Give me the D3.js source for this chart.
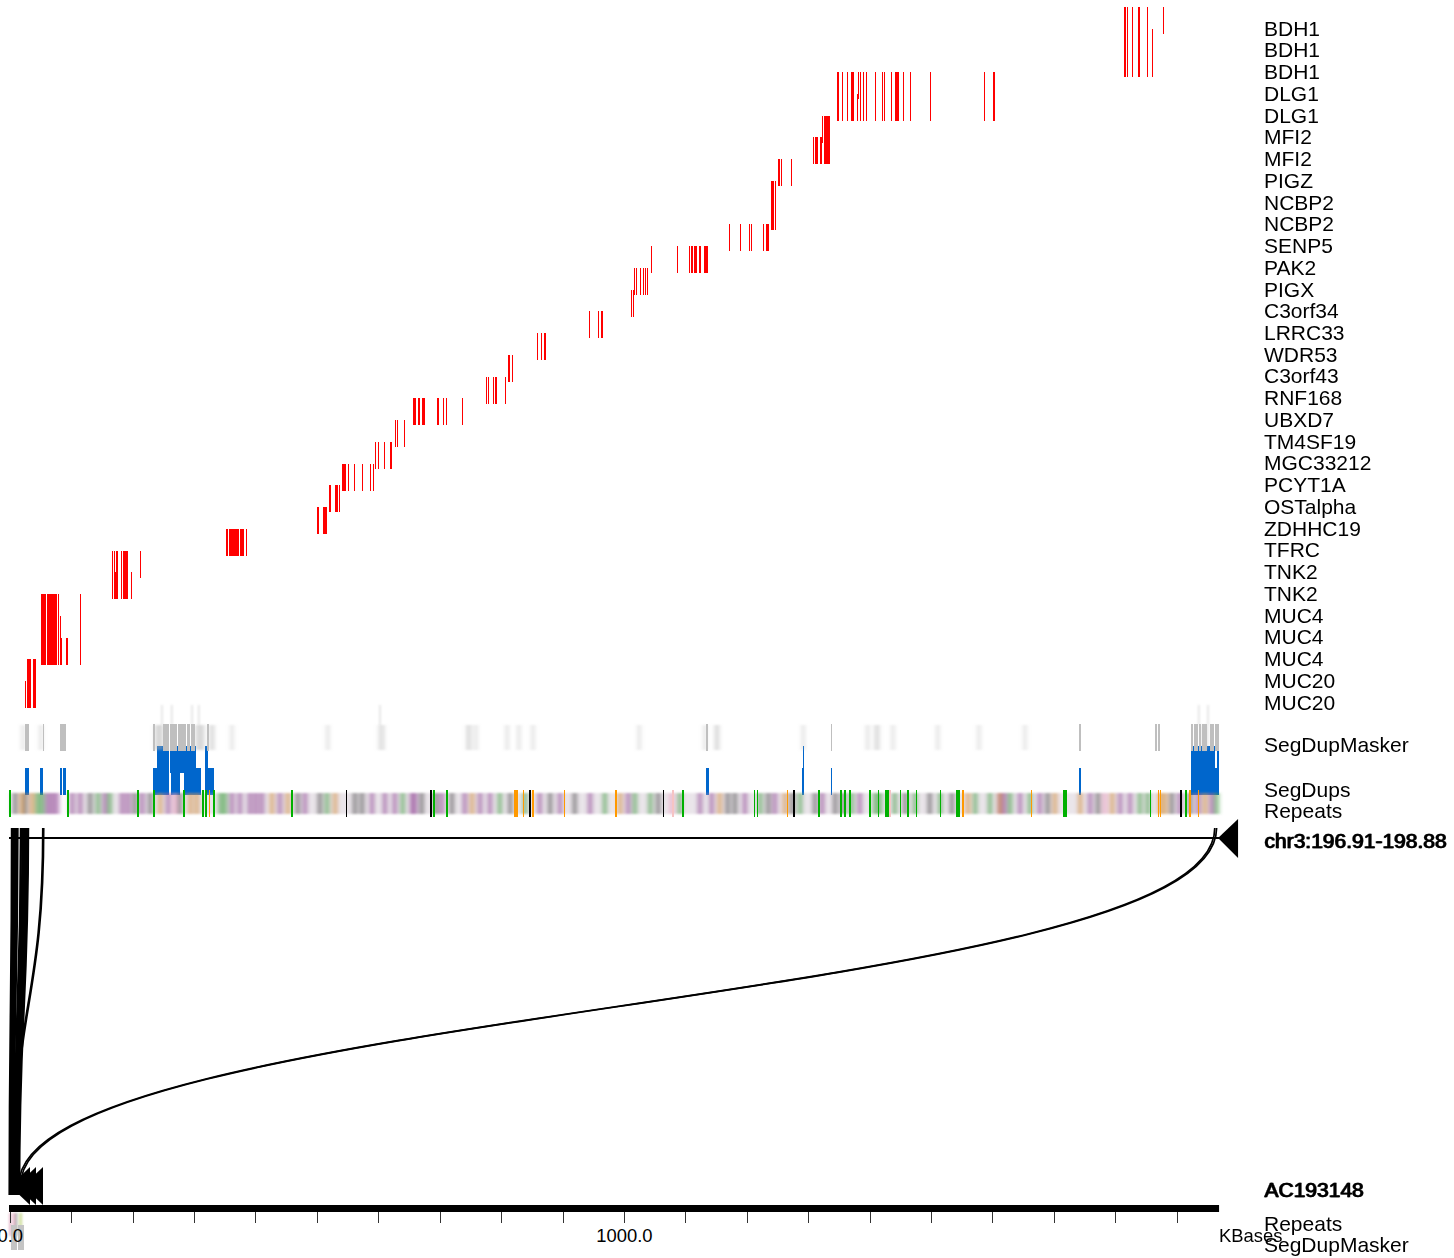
<!DOCTYPE html>
<html><head><meta charset="utf-8">
<script src="https://cdn.jsdelivr.net/npm/d3@7/dist/d3.min.js"></script>
<style>html,body{margin:0;padding:0;background:#fff;overflow:hidden}svg{display:block}text{font-family:"Liberation Sans",Arial,sans-serif;fill:#000}</style>
</head><body><svg id="c" width="1454" height="1258"></svg>
<script>
const geneLabels=["BDH1","BDH1","BDH1","DLG1","DLG1","MFI2","MFI2","PIGZ","NCBP2","NCBP2","SENP5","PAK2","PIGX","C3orf34","LRRC33","WDR53","C3orf43","RNF168","UBXD7","TM4SF19","MGC33212","PCYT1A","OSTalpha","ZDHHC19","TFRC","TNK2","TNK2","MUC4","MUC4","MUC4","MUC20","MUC20"];
// [first row, last row, start kb, end kb]
const exons=[
[31,31,26,27.7],[30,31,29.3,34.2],[30,31,34.2,35.8],[30,31,39.1,44],
[27,29,52.1,60.2],[27,29,61.9,78.1],[27,29,79.8,81.4],[27,29,115.6,117.2],[28,29,83,84.7],[29,29,84.7,86.3],[29,29,92.8,96.1],
[25,26,167.7,169.3],[25,26,170.9,172.6],[26,26,172.6,174.2],[25,26,174.2,177.5],[25,26,182.3,184],[25,26,185.6,193.7],[26,26,198.6,200.2],[25,25,213.3,214.9],
[24,24,353.3,356.5],[24,24,358.2,374.4],[24,24,376.1,382.6],[24,24,385.8,387.5],
[23,23,501.4,504.7],[23,23,511.2,517.7],
[22,22,521,524.2],[22,22,530.7,535.6],[22,22,537.2,538.9],
[21,21,542.1,548.6],[21,21,551.9,553.5],[21,21,561.7,563.3],[21,21,574.7,576.3],[21,21,587.7,589.3],[21,21,592.6,594.2],
[20,20,595.8,597.5],[20,20,600.7,602.4],[20,20,610.5,612.1],[20,20,620.3,623.5],
[19,19,628.4,630],[19,19,631.7,633.3],[19,19,643.1,644.7],
[18,18,657.7,662.6],[18,18,665.9,669.1],[18,18,672.4,677.2],[18,18,696.8,700],[18,18,706.6,708.2],[18,18,711.4,713.1],[18,18,737.5,739.1],
[17,17,776.6,778.2],[17,17,779.8,781.4],[17,17,788,789.6],[17,17,791.2,794.5],[17,17,807.5,809.1],
[16,16,812.4,815.6],[16,16,818.9,820.5],
[15,15,859.6,861.2],[15,15,866.1,867.7],[15,15,871,874.2],
[14,14,944.2,945.9],[14,14,958.9,960.5],[14,14,963.8,967],
[13,13,1012.6,1014.2],[13,13,1015.9,1017.5],
[12,12,1017.5,1019.1],[12,12,1020.8,1022.4],[12,12,1027.3,1028.9],[12,12,1032.2,1033.8],[12,12,1035.4,1037],[12,12,1038.7,1040.3],
[11,11,1045.2,1046.8],[11,11,1087.5,1089.1],[11,11,1107,1108.7],[11,11,1110.3,1113.6],[11,11,1115.2,1120.1],[11,11,1123.3,1126.6],[11,11,1131.5,1138],
[10,10,1172.2,1173.8],[10,10,1190.1,1191.7],[10,10,1204.7,1206.3],[10,10,1208,1209.6],[10,10,1227.5,1229.1],[10,10,1232.4,1237.3],
[8,9,1240.5,1245.4],[8,9,1247,1248.7],
[7,7,1251.9,1255.2],[7,7,1256.8,1258.4],[7,7,1273.1,1274.7],
[6,6,1308.9,1310.5],[6,6,1312.2,1317.1],[6,6,1320.3,1323.6],[5,5,1323.6,1325.2],[5,6,1326.8,1336.6],
[3,4,1348,1351.2],[3,4,1356.1,1357.8],[3,4,1364.3,1365.9],[3,4,1370.8,1375.7],[4,4,1380.5,1382.2],[3,3,1382.2,1383.8],[3,4,1385.4,1387.1],[3,4,1390.3,1391.9],[3,4,1395.2,1396.8],[3,4,1409.8,1411.5],[3,4,1421.2,1422.9],[3,4,1424.5,1426.1],[3,4,1435.9,1437.5],[3,4,1442.4,1448.9],[3,4,1455.4,1457.1],[3,4,1466.8,1468.5],[3,4,1499.4,1501],[3,4,1587.3,1588.9],[3,4,1602,1605.2],
[0,2,1815.2,1818.5],[0,2,1820.1,1821.7],[0,2,1828.2,1829.9],[0,2,1838,1841.3],[0,2,1852.7,1854.3],[1,2,1860.8,1862.4],[0,0,1878.7,1880.3]
];
const segDupMaskerSolid=[[26,32.6],[55.4,57],[83,92.8],[234.4,237.7],[250.7,260.5],[262.1,265.4],[265.4,273.5],[275.1,288.2],[289.8,294.7],[296.3,302.8],[322.3,325.6],[1134.7,1138],[1338.2,1339.8],[1742,1745.2],[1865.7,1868.9],[1870.6,1873.8],[1924.3,1927.6],[1929.2,1935.7],[1937.3,1940.6],[1942.2,1950.3],[1955.2,1961.7],[1963.4,1970]];
const segDupMaskerFaint=[23,52,239,243,246,249,306,309,313,316,329,332,363,519,604,609,747,750,760,811,830,853,1026,1133,1151,1154,1293,1398,1411,1415,1439,1512,1579,1654,1945,1949];
const segDupMaskerHigh=[249,265,298,309,604,1937,1952];
const segDupsLower=[[26,32.6],[50.5,55.4],[83,86.3],[87.9,92.8],[234.4,260.5],[263.7,278.4],[284.9,312.6],[319.1,333.7],[1134.7,1139.6],[1291,1294.3],[1338.2,1339.8],[1742,1745.2],[1924.3,1970]];
const segDupsUpper=[[240.5,260.5],[262.1,304.4],[319.6,324],[1292.6,1294.3],[1924.3,1963.4],[1966.6,1970]];
const repeatWash=[[2,78],[95,1966]];
const repeatsPurple=[62,70,78,103,116,156,184,194,217,259,363,376,392,402,412,441,482,591,612,628,656,661,705,742,767,783,864,897,946,1008,1125,1144,1198,1247,1324,1385,1613,1621,1646,1678,1760,1809,1825,1906,1936,1958];
const repeatsGreen=[46,54,145,164,344,352,518,641,799,840,970,1019,1044,1092,1223,1288,1372,1410,1418,1442,1475,1516,1573,1597,1630,1662,1841,1854,1966];
const repeatsGray=[10,26,132,205,230,278,470,506,563,575,672,695,721,816,881,921,1057,1170,1182,1236,1275,1312,1345,1358,1459,1499,1535,1691,1773,1893,1923];
const repeatsOrange=[21,37,246,295,306,428,454,531,754,995,1157,1263,1561,1613,1703,1744,1796,1874,1882,1947];
const repeatsPink=[270,1079,1784];
const solidGreen=[1.6,96,210,236,285,316,321,334,461,692,713,1097,1214,1219,1319,1354.5,1361,1402,1416,1428,1431,1451,1477,1516,1858,1916];
const blocksGreen=[[1367.5,1371],[1462,1465],[1542,1548],[1716,1722.5]];
const solidOrange=[326,824,827,838,853,904,988,1267,1665,1871,1875,1937];
const blocksOrange=[[1551.5,1555],[1921,1924]];
const solidBlack=[549,687,848,1066,1278,1908];
const blocksBlack=[[685.4,688.6]];
const solidPink=[1081,1434];
const lowerRepeatsPink=[2,8];
const lowerRepeatsGray=[12];
const lowerRepeatsYellow=[18,20];
const lowerMasker=[[3.3,13],[14.7,24.4]];
const alignTop=[4.9,7.3,9.8,12,13.8,19.5,22,24.4,26.9,29.3,31];
const alignBottom=[1,2,3.5,5,6.5,8,9.5,11,13,15,16.5];
const midTop=[55,56.5];
const midBottom=[7,8.5];
const longTop=[1963,1966];
const longBottom=[16,19];
const lowerArrows=[34.2,44,55.4];
const axisTicks=[0,100,200,300,400,500,600,700,800,900,1000,1100,1200,1300,1400,1500,1600,1700,1800,1900];
const trackLabels=[["SegDupMasker",752],["SegDups",797],["Repeats",818]];
const lowerLabels=[["Repeats",1231],["SegDupMasker",1252]];

const svg=d3.select("#c");
const x=d3.scaleLinear().domain([0,1970]).range([9,1219.07]);
const rowY=d3.scaleLinear().domain([0,31]).range([7,681]);
const defs=svg.append("defs");
defs.append("filter").attr("id","b1").attr("x","-5%").attr("width","110%").attr("y","-20%").attr("height","140%")
  .append("feGaussianBlur").attr("stdDeviation","2 1.1");
defs.append("filter").attr("id","b2").attr("x","-50%").attr("width","200%").attr("y","-10%").attr("height","120%")
  .append("feGaussianBlur").attr("stdDeviation","0.8 1");
const rowH=27;
function ranges(g,data,y,h,col){g.selectAll(null).data(data).join("rect").attr("x",d=>x(d[0])).attr("width",d=>x(d[1])-x(d[0])).attr("y",y).attr("height",h).attr("fill",col).attr("shape-rendering","crispEdges");}
function lines(g,data,y,h,col,w){g.selectAll(null).data(data).join("rect").attr("x",d=>x(d)-w/2).attr("width",w).attr("y",y).attr("height",h).attr("fill",col).attr("shape-rendering","crispEdges");}

// exons
svg.append("g").selectAll("rect").data(exons).join("rect")
  .attr("x",d=>x(d[2])).attr("width",d=>x(d[3])-x(d[2]))
  .attr("y",d=>rowY(d[0])).attr("height",d=>rowY(d[1])+rowH-rowY(d[0]))
  .attr("fill","#ff0000").attr("shape-rendering","crispEdges");

// seg dups
const sd=svg.append("g");
ranges(sd,segDupsUpper,746,27,"#0066cc");
ranges(sd,segDupsLower,768,27,"#0066cc");
// masker
const mf=svg.append("g").attr("filter","url(#b1)");
mf.selectAll(null).data(segDupMaskerFaint).join("rect").attr("x",d=>x(d)-1.5).attr("width",3).attr("y",725).attr("height",25).attr("fill","#aaa").attr("opacity",.38);
const mh=svg.append("g").attr("filter","url(#b2)");
mh.selectAll(null).data(segDupMaskerHigh).join("rect").attr("x",d=>x(d)-.7).attr("width",1.4).attr("y",705).attr("height",20).attr("fill","#aaa").attr("opacity",.4);
ranges(svg.append("g"),segDupMaskerSolid,724,27,"#bfbfbf");

// repeats
const rb=svg.append("g").attr("filter","url(#b1)");
rb.selectAll(null).data(repeatWash).join("rect").attr("x",d=>x(d[0])).attr("width",d=>x(d[1])-x(d[0])).attr("y",793).attr("height",21).attr("fill","#bba8bb").attr("opacity",.3);
[[repeatsPurple,"#8e3f93"],[repeatsGreen,"#3a9a3a"],[repeatsGray,"#4d4d4d"],[repeatsOrange,"#cf8a30"],[repeatsPink,"#eb9ac0"]].forEach(([a,c])=>{
  rb.selectAll(null).data(a).join("rect").attr("x",d=>x(d)-2.5).attr("width",5).attr("y",793).attr("height",21).attr("fill",c).attr("opacity",.55);
});
const rs=svg.append("g");
lines(rs,solidGreen,790,27,"#00b000",1.4);
lines(rs,solidOrange,790,27,"#ff9900",1.4);
lines(rs,solidPink,790,27,"#f6c4c4",1.4);
ranges(rs,blocksGreen,790,27,"#00b000");
ranges(rs,blocksOrange,790,27,"#ff9900");
lines(rs,solidBlack,790,27,"#000",1.4);
ranges(rs,blocksBlack,790,27,"#000");

// lower tracks
const lb=svg.append("g").attr("filter","url(#b2)");
[[lowerRepeatsPink,"#d48aa8"],[lowerRepeatsGray,"#888"],[lowerRepeatsYellow,"#c8d890"]].forEach(([a,c])=>{
  lb.selectAll(null).data(a).join("rect").attr("x",d=>x(d)-1).attr("width",2).attr("y",1213).attr("height",23).attr("fill",c).attr("opacity",.7);
});
ranges(svg.append("g"),lowerMasker,1225,25,"#c4c4c4");

// alignments
const link=d3.linkVertical();
const al=svg.append("g").attr("fill","none").attr("stroke","#000");
alignTop.forEach((t,i)=>al.append("path").attr("stroke-width",2.4).attr("d",link({source:[x(t),828],target:[x(alignBottom[i]),1195]})));
midTop.forEach((t,i)=>al.append("path").attr("stroke-width",1.7).attr("d",link({source:[x(t),828],target:[x(midBottom[i]),1180]})));
longTop.forEach((t,i)=>al.append("path").attr("stroke-width",1.7).attr("d",link({source:[x(t),828],target:[x(longBottom[i]),1185]})));
const tri=d3.line();
const topBase=x(1970)+19;
svg.append("path").attr("d",tri([[x(1970)-1,838],[topBase,819],[topBase,858]])+"Z").attr("fill","#000");
svg.append("g").selectAll("path").data(lowerArrows).join("path")
  .attr("d",d=>tri([[x(d)-20,1186],[x(d),1167],[x(d),1205]])+"Z").attr("fill","#000");
svg.append("line").attr("x1",x(0)).attr("x2",x(1970)).attr("y1",838).attr("y2",838).attr("stroke","#000").attr("stroke-width",2);

// lower bar + axis
svg.append("rect").attr("x",x(0)).attr("width",x(1970)-x(0)).attr("y",1205).attr("height",7).attr("fill","#000");
const axis=svg.append("g").attr("transform","translate(0.7,1212)")
  .call(d3.axisBottom(x).tickValues(axisTicks).tickSize(11).tickFormat(d=>d%1000===0?d3.format(".1f")(d):""));
axis.select(".domain").remove();
axis.selectAll("line").attr("stroke","#333").attr("shape-rendering","crispEdges");
axis.selectAll("text").attr("y",30).attr("dy",0).attr("font-size",18.4).attr("font-family",'"Liberation Sans"').attr("fill","#000");
svg.append("text").attr("x",1219).attr("y",1242).attr("font-size",18.4).text("KBases");

// labels
const fs=21, lx=1264;
svg.append("g").selectAll("text").data(geneLabels).join("text").attr("x",lx).attr("y",(d,i)=>rowY(i)+28.6).attr("font-size",fs).text(d=>d);
svg.append("g").selectAll("text").data(trackLabels).join("text").attr("x",lx).attr("y",d=>d[1]).attr("font-size",fs).text(d=>d[0]);
svg.append("g").selectAll("text").data(lowerLabels).join("text").attr("x",lx).attr("y",d=>d[1]).attr("font-size",fs).text(d=>d[0]);
[[ "chr3:196.91-198.88",848],["AC193148",1197]].forEach(([t,y])=>{[0,1].forEach(o=>svg.append("text").attr("x",lx+o).attr("y",y).attr("font-size",fs).attr("stroke","#000").attr("stroke-width",.3).text(t));});
</script></body></html>
